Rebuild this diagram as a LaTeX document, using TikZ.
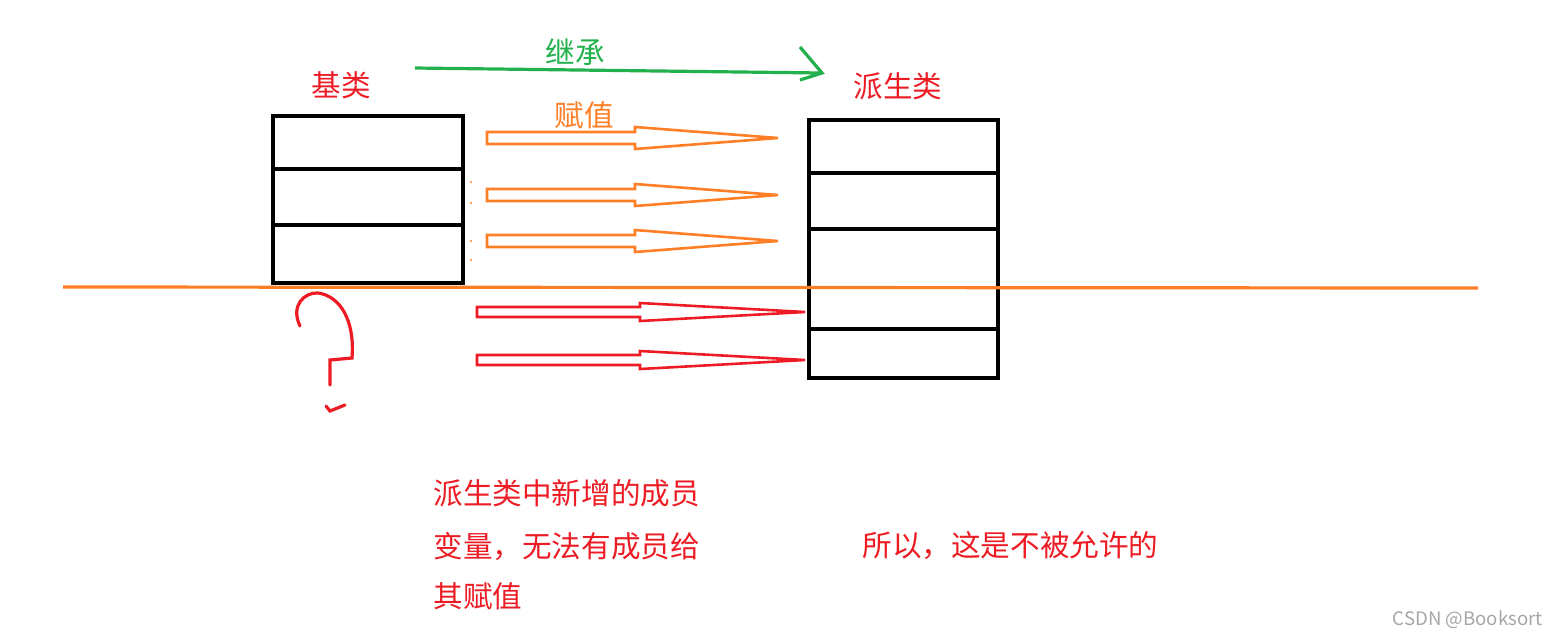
\documentclass[tikz,border=0pt]{standalone}
\usepackage{fontspec}
\newfontfamily\cjk{Noto Sans CJK SC}
\begin{document}
\begin{tikzpicture}[x=0.5pt,y=-0.5pt,
  box/.style={draw=black,line width=1.6pt},
  lab/.style={font=\cjk\fontsize{14.8}{16}\selectfont,inner sep=0pt,anchor=west},
  ora/.style={draw={rgb,255:red,255;green,127;blue,39},line width=1.3pt},
  red/.style={draw={rgb,255:red,237;green,28;blue,36},line width=1.3pt}]
\definecolor{o}{RGB}{255,127,39}\definecolor{r}{RGB}{237,28,36}\definecolor{g}{RGB}{34,177,76}
\useasboundingbox (0,0) rectangle (1558,639);
% boxes
\draw[box] (273,116) rectangle (463,283);
\draw[box] (273,169)--(463,169) (273,225)--(463,225);
\draw[box] (809,120) rectangle (998,378);
\draw[box] (809,173)--(998,173) (809,229)--(998,229) (809,329)--(998,329);
% orange line
\coordinate (l1) at (63,287); \coordinate (l2) at (1478,288);
\draw[draw=o,line width=1.6pt] (l1)--(l2);
% green arrow
\coordinate (g1) at (415,68); \coordinate (g2) at (822,73);
\draw[draw=g,line width=1.6pt] (g1)--(g2) (800,47)--(822,73)--(800,80);
\node[lab,text=g] (t0) at (545,52) {继承};
\node[lab,text=r] (t1) at (311,85) {基类};
\node[lab,text=r] (t2) at (853,86) {派生类};
\node[lab,text=o] (t3) at (554,115) {赋值};
% hollow arrows
\foreach \y in {138,195,241}
  \draw[ora] (487,\y-6)--(635,\y-6)--(635,\y-11)--(778,\y)--(635,\y+11)--(635,\y+6)--(487,\y+6)--cycle;
\foreach \y in {312,360}
  \draw[red] (477,\y-5)--(640,\y-5)--(640,\y-9)--(805,\y)--(640,\y+9)--(640,\y+5)--(477,\y+5)--cycle;
\foreach \y in {182,203,241,260} \fill[o] (471,\y) circle (1.2);
% red hook
\draw[draw=r,line width=1.6pt,line cap=round] (300,326) .. controls (290,305) and (305,292) .. (318,293)
  .. controls (340,296) and (355,320) .. (352,358) -- (330,360) -- (330,385);
\draw[draw=r,line width=1.6pt,line cap=round] (326,406)--(330,411)--(345,405);
% texts
\node[lab,text=r] (a1) at (433,493) {派生类中新增的成员};
\node[lab,text=r] (a2) at (433,547) {变量，无法有成员给};
\node[lab,text=r] (a3) at (433,596) {其赋值};
\node[lab,text=r] (a4) at (862,546) {所以，这是不被允许的};
\node[font=\cjk\fontsize{9.3}{10}\selectfont,text=gray!70,inner sep=0pt,anchor=east] (w) at (1543,620) {CSDN @Booksort};
\end{tikzpicture}
\end{document}
